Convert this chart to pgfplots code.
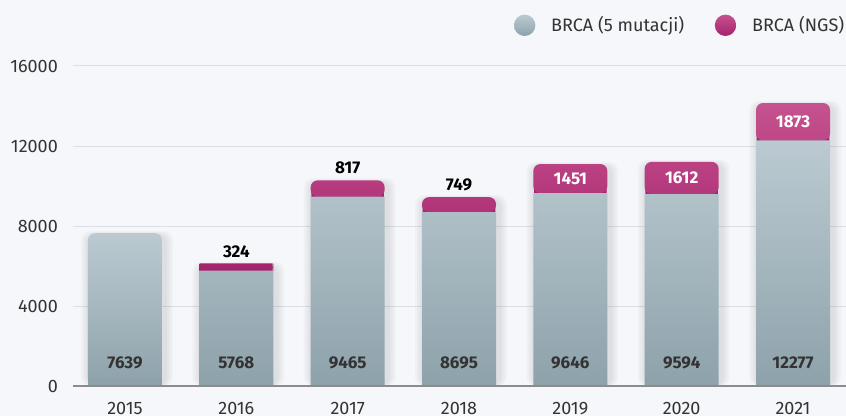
\documentclass[border=0pt]{standalone}
\usepackage{pgfplots}
\pgfplotsset{compat=1.18}
\usepackage{fontspec}
\setmainfont{Fira Sans}
\definecolor{bg}{HTML}{F5F7FB}
\definecolor{greyT}{HTML}{BBCAD1}
\definecolor{greyB}{HTML}{8EA2AB}
\definecolor{pinkT}{HTML}{C6528F}
\definecolor{pinkB}{HTML}{A5236C}
\definecolor{gridc}{HTML}{DDE0E6}
\definecolor{basec}{HTML}{8C8C8C}
\definecolor{txt}{HTML}{333333}
\newcommand{\lab}{\fontsize{18}{21}\selectfont}
\newcommand{\blab}{\fontsize{17}{20}\selectfont\bfseries}
\begin{document}
\begin{tikzpicture}[x=1pt,y=1pt]
\fill[bg] (0,0) rectangle (846,416);
\pgfplotsset{
  base/.style={
    at={(73pt,30pt)}, anchor=south west, scale only axis,
    width=773pt, height=320pt,
    xmin=-0.467, xmax=6.476, ymin=0, ymax=16000,
  },
  shad/.style={ybar, bar shift=2pt, draw=none, fill=black, fill opacity=0.022, rounded corners=9pt},
}
% axis 1: grid, ticks, soft shadows, band behind the pink tops
\begin{axis}[base,
  ytick={0,4000,8000,12000,16000},
  xtick={0,1,2,3,4,5,6},
  xticklabels={2015,2016,2017,2018,2019,2020,2021},
  scaled y ticks=false,
  /pgf/number format/1000 sep={},
  /pgf/number format/assume math mode=true,
  ymajorgrids, grid style={gridc, line width=1pt},
  axis line style={draw=none}, major tick length=0pt,
  ticklabel style={font=\lab, text=txt, inner sep=0pt},
  yticklabel style={anchor=east},
  yticklabel shift=15pt,
  xticklabel style={anchor=north},
  xticklabel shift=16pt,
  clip=false]
\addplot[shad, bar width=80pt] coordinates {(0,7589) (1,6042) (2,10232) (3,9394) (4,11047) (5,11156) (6,14100)};
\addplot[shad, bar width=84pt] coordinates {(0,7639) (1,6092) (2,10282) (3,9444) (4,11097) (5,11206) (6,14150)};
\addplot[shad, bar width=88pt] coordinates {(0,7689) (1,6142) (2,10332) (3,9494) (4,11147) (5,11256) (6,14200)};
\addplot[shad, bar width=92pt] coordinates {(0,7739) (1,6192) (2,10382) (3,9544) (4,11197) (5,11306) (6,14250)};
\addplot[ybar, bar width=72.6pt, bar shift=0pt, draw=none, fill=pinkB] coordinates {(1,6128) (2,9825) (3,9055) (4,10006) (5,9954) (6,12637)};
\end{axis}
% axis 2: pink tops, stacked on the grey values
\begin{axis}[base, hide axis, ybar stacked, bar width=74pt, clip=false]
\addplot[draw=none, fill=none] coordinates {(1,5768) (2,9465) (3,8695) (4,9646) (5,9594) (6,12277)};
\addplot[draw=none, top color=pinkT, bottom color=pinkB, rounded corners=7pt] coordinates {(1,324) (2,817) (3,749) (4,1451) (5,1612) (6,1873)};
\end{axis}
% axis 3: grey bars, baseline, value labels
\begin{axis}[base, hide axis, clip=false]
\addplot[ybar, bar width=74pt, bar shift=0pt, draw=none, top color=greyT, bottom color=greyB] coordinates {(1,5768) (2,9465) (3,8695) (4,9646) (5,9594) (6,12277)};
\addplot[ybar, bar width=74pt, bar shift=0pt, draw=none, top color=greyT, bottom color=greyB, rounded corners=7pt] coordinates {(0,7639)};
\addplot[ybar, bar width=74pt, bar shift=0pt, draw=none, fill=greyB] coordinates {(0,360)};
\draw[basec, line width=2pt] (axis cs:-0.467,0) -- (axis cs:6.476,0);
\node[font=\blab, text=txt, inner sep=0pt] at (axis cs:0,1175) {7639};
\node[font=\blab, text=txt, inner sep=0pt] at (axis cs:1,1175) {5768};
\node[font=\blab, text=txt, inner sep=0pt] at (axis cs:2,1175) {9465};
\node[font=\blab, text=txt, inner sep=0pt] at (axis cs:3,1175) {8695};
\node[font=\blab, text=txt, inner sep=0pt] at (axis cs:4,1175) {9646};
\node[font=\blab, text=txt, inner sep=0pt] at (axis cs:5,1175) {9594};
\node[font=\blab, text=txt, inner sep=0pt] at (axis cs:6,1175) {12277};
\node[font=\blab, text=black, anchor=south, inner sep=0pt] at (axis cs:1,6092) [yshift=6pt] {324};
\node[font=\blab, text=black, anchor=south, inner sep=0pt] at (axis cs:2,10282) [yshift=6pt] {817};
\node[font=\blab, text=black, anchor=south, inner sep=0pt] at (axis cs:3,9444) [yshift=6pt] {749};
\node[font=\blab, text=white, inner sep=0pt] at (axis cs:4,10371.5) {1451};
\node[font=\blab, text=white, inner sep=0pt] at (axis cs:5,10400) {1612};
\node[font=\blab, text=white, inner sep=0pt] at (axis cs:6,13213.5) {1873};
\end{axis}
\shade[top color=greyT, bottom color=greyB] (524.7,390.7) circle[radius=10.7pt];
\node[anchor=base west, inner sep=0pt, text=txt, font=\lab] at (551,384.5) {BRCA (5 mutacji)};
\shade[top color=pinkT, bottom color=pinkB] (725.5,390.7) circle[radius=10.7pt];
\node[anchor=base west, inner sep=0pt, text=txt, font=\lab] at (752,384.5) {BRCA (NGS)};
\pgfresetboundingbox
\useasboundingbox (0,0) rectangle (846,416);
\end{tikzpicture}
\end{document}
